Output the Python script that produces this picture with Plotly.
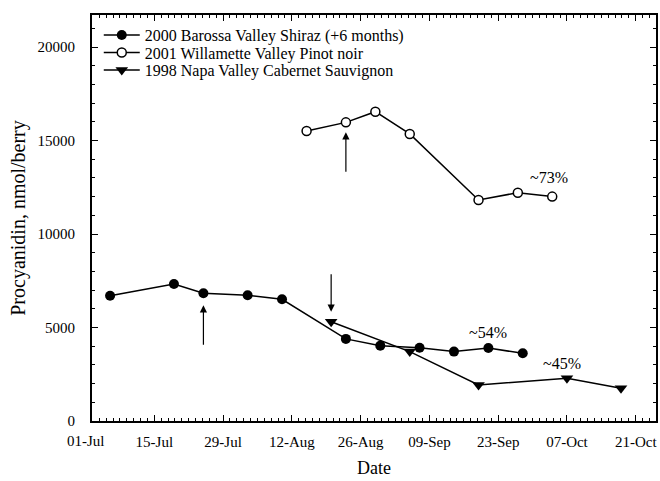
import plotly.graph_objects as go

# ---- data ----
shiraz_dates = ["2001-07-06", "2001-07-19", "2001-07-25", "2001-08-03", "2001-08-10",
                "2001-08-23", "2001-08-30", "2001-09-07", "2001-09-14", "2001-09-21",
                "2001-09-28"]
shiraz_values = [6700, 7330, 6830, 6720, 6510, 4390, 4030, 3920, 3710, 3900, 3620]

pinot_dates = ["2001-08-15", "2001-08-23", "2001-08-29", "2001-09-05", "2001-09-19",
               "2001-09-27", "2001-10-04"]
pinot_values = [15510, 15970, 16540, 15350, 11820, 12210, 12000]

napa_dates = ["2001-08-20", "2001-09-05", "2001-09-19", "2001-10-07", "2001-10-18"]
napa_values = [5310, 3710, 1930, 2280, 1750]

series_names = ["2000 Barossa Valley Shiraz (+6 months)",
                "2001 Willamette Valley Pinot noir",
                "1998 Napa Valley Cabernet Sauvignon"]
loss_labels = ["~54%", "~73%", "~45%"]

FONT = "Liberation Serif"
DAY_MS = 86400000

fig = go.Figure()
fig.add_trace(go.Scatter(x=shiraz_dates, y=shiraz_values, name=series_names[0],
                         mode="lines+markers", legend="legend",
                         line=dict(color="black", width=1.5),
                         marker=dict(symbol="circle", size=10, color="black")))
fig.add_trace(go.Scatter(x=pinot_dates, y=pinot_values, name=series_names[1],
                         mode="lines+markers", legend="legend2",
                         line=dict(color="black", width=1.5),
                         marker=dict(symbol="circle", size=9, color="white",
                                     line=dict(color="black", width=1.5))))
fig.add_trace(go.Scatter(x=napa_dates, y=napa_values, name=series_names[2],
                         mode="lines+markers", legend="legend3",
                         line=dict(color="black", width=1.5),
                         marker=dict(symbol="triangle-down", size=11, color="black")))

# arrows pointing at sample points
arrow_common = dict(showarrow=True, arrowhead=2, arrowsize=1.2, arrowwidth=1.2,
                    arrowcolor="black", text="", xref="x", yref="y", axref="pixel", ayref="pixel")
fig.add_annotation(x=shiraz_dates[2], y=shiraz_values[2], ax=0, ay=53, standoff=12, **arrow_common)
fig.add_annotation(x=pinot_dates[1], y=pinot_values[1], ax=0, ay=51, standoff=10, **arrow_common)
fig.add_annotation(x=napa_dates[0], y=napa_values[0], ax=0, ay=-49, standoff=10, **arrow_common)

# loss percentage labels
txt_font = dict(family=FONT, size=16, color="black")
fig.add_annotation(x=shiraz_dates[9], y=shiraz_values[9], text=loss_labels[0], showarrow=False,
                   yshift=16, font=txt_font)
fig.add_annotation(x=pinot_dates[6], y=pinot_values[6], text=loss_labels[1], showarrow=False,
                   xshift=-3, yshift=19, font=txt_font)
fig.add_annotation(x=napa_dates[3], y=napa_values[3], text=loss_labels[2], showarrow=False,
                   xshift=-5, yshift=15, font=txt_font)

# first date label (sits just left of the axis start)
fig.add_annotation(x=0, y=0, xref="paper", yref="paper", xshift=-6.5, yshift=-20,
                   text="01-Jul", showarrow=False, xanchor="center", yanchor="middle",
                   font=dict(family=FONT, size=15, color="black"))

leg_common = dict(x=0.012, xanchor="left", yanchor="middle", bgcolor="rgba(0,0,0,0)",
                  font=dict(family=FONT, size=16, color="black"), itemwidth=36)
fig.update_layout(
    width=660, height=481,
    margin=dict(l=92, r=2, t=15, b=60),
    paper_bgcolor="white", plot_bgcolor="white",
    font=dict(family=FONT, size=15, color="black"),
    showlegend=True,
    legend=dict(y=0.9507, **leg_common),
    legend2=dict(y=0.9076, **leg_common),
    legend3=dict(y=0.8645, **leg_common),
)
fig.update_xaxes(
    type="date",
    range=["2001-07-02 07:40", "2001-10-25 03:00"],
    tick0="2001-07-01", dtick=14 * DAY_MS, tickformat="%d-%b",
    showline=True, linewidth=2, linecolor="black", mirror="ticks",
    ticks="inside", ticklen=6, tickwidth=1.2, tickcolor="black",
    minor=dict(tick0="2001-07-01", dtick=int(1.4 * DAY_MS), ticks="inside",
               ticklen=3, tickwidth=1, tickcolor="black"),
    showgrid=False, zeroline=False,
    ticklabelstandoff=6,
    title=dict(text="Date", font=dict(family=FONT, size=18), standoff=12),
    tickfont=dict(family=FONT, size=15),
)
fig.update_yaxes(
    range=[0, 21711],
    tick0=0, dtick=5000, tickformat="d",
    showline=True, linewidth=2, linecolor="black", mirror="ticks",
    ticks="inside", ticklen=6, tickwidth=1.2, tickcolor="black",
    minor=dict(dtick=1000, ticks="inside", ticklen=3, tickwidth=1, tickcolor="black"),
    showgrid=False, zeroline=False,
    ticklabelstandoff=12,
    title=dict(text="Procyanidin, nmol/berry", font=dict(family=FONT, size=20), standoff=7),
    tickfont=dict(family=FONT, size=15),
)

fig.write_html("out.html")
